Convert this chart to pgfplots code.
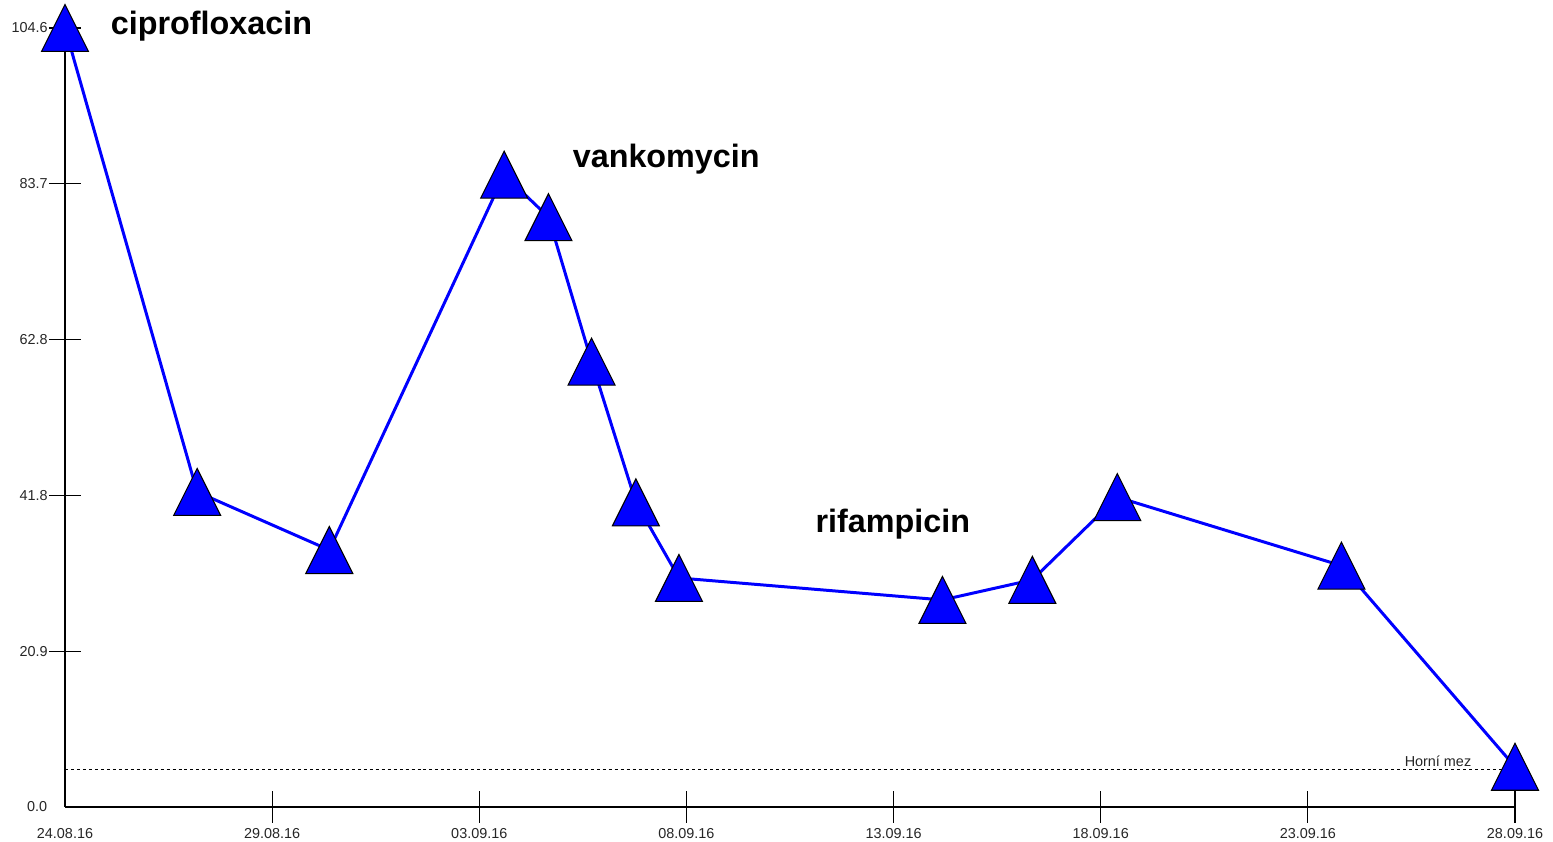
\documentclass[border=0pt]{standalone}
\usepackage{fontspec}
\setmainfont{Liberation Sans}
\usepackage{pgfplots}
\pgfplotsset{compat=1.18}

% triangle as wide as it is tall, centred on its box
\pgfdeclareplotmark{bigtri}{%
  \pgfpathmoveto{\pgfpoint{0pt}{\pgfplotmarksize}}%
  \pgfpathlineto{\pgfpoint{\pgfplotmarksize}{-\pgfplotmarksize}}%
  \pgfpathlineto{\pgfpoint{-\pgfplotmarksize}{-\pgfplotmarksize}}%
  \pgfpathclose
  \pgfusepathqfillstroke}

\begin{document}
\begin{tikzpicture}
\begin{axis}[
    scale only axis,
    width=145mm,
    height=77.9mm,
    xmin=0, xmax=35,
    ymin=0, ymax=104.6,
    axis x line=bottom,
    axis y line=left,
    axis line style={-, black, line width=0.45pt},
    tick align=center,
    major tick length=3.2mm,
    tick style={black, line width=0.35pt},
    xtick={5,10,15,20,25,30,35},
    xticklabels={29.08.16,03.09.16,08.09.16,13.09.16,18.09.16,23.09.16,28.09.16},
    extra x ticks={0},
    extra x tick labels={24.08.16},
    extra x tick style={major tick length=0pt, xticklabel style={yshift=-1.6mm}},
    ytick={20.92,41.84,62.76,83.68,104.6},
    yticklabels={20.9,41.8,62.8,83.7,104.6},
    extra y ticks={0},
    extra y tick labels={0.0},
    extra y tick style={major tick length=0pt, yticklabel style={xshift=-1.65mm}},
    ticklabel style={font=\fontsize{4.1}{5}\selectfont, text=black!85},
    xticklabel style={yshift=0.7mm},
    yticklabel style={xshift=1.1mm},
    clip=false,
]
% Horni mez
\addplot[black, line width=0.3pt, dash pattern=on 0.85pt off 0.85pt] coordinates {(0,5.0) (35,5.0)};

\addplot[blue, line width=0.85pt, mark=bigtri, mark size=2.35mm,
    mark options={fill=blue, draw=black, line width=0.3pt}] coordinates {
    (0,104.6)
    (3.19,42.3)
    (6.38,34.5)
    (10.60,84.9)
    (11.67,79.2)
    (12.71,59.8)
    (13.78,40.9)
    (14.82,30.75)
    (21.18,27.8)
    (23.35,30.5)
    (25.40,41.6)
    (30.81,32.4)
    (35.0,5.4)
};

\node[anchor=base west, inner sep=0, font=\bfseries\fontsize{9.2}{11}\selectfont] at (axis cs:1.09,103.7) {ciprofloxacin};
\node[anchor=base west, inner sep=0, font=\bfseries\fontsize{9.2}{11}\selectfont] at (axis cs:12.24,85.9) {vankomycin};
\node[anchor=base west, inner sep=0, font=\bfseries\fontsize{9.2}{11}\selectfont] at (axis cs:18.10,36.9) {rifampicin};
\node[anchor=base east, inner sep=0, font=\fontsize{4.1}{5}\selectfont, text=black!85] at (axis cs:33.96,5.5) {Horní mez};
\end{axis}
\pgfresetboundingbox
\path ([shift={(-6.5mm,-3.5mm)}]current axis.south west) rectangle ([shift={(3.8mm,2.8mm)}]current axis.north east);
\end{tikzpicture}
\end{document}
